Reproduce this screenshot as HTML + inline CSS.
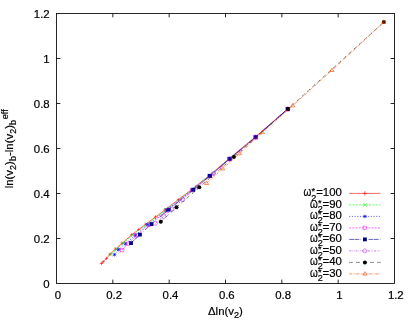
<!DOCTYPE html><html><head><meta charset="utf-8"><title>plot</title>
<style>html,body{margin:0;padding:0;background:#fff;}svg{display:block;will-change:transform;}text{font-family:"Liberation Sans",sans-serif;fill:#000;stroke:#000;stroke-width:0.2px;}</style></head><body>
<svg width="415" height="332" viewBox="0 0 415 332">
<rect width="415" height="332" fill="#fff"/>
<g stroke="#000" stroke-width="0.85" fill="none">
<rect x="56.5" y="13.5" width="338.0" height="270.0"/>
<path d="M112.83 283.5v-3.9M112.83 13.5v3.9M56.5 238.50h3.9M394.5 238.50h-3.9"/>
<path d="M169.17 283.5v-3.9M169.17 13.5v3.9M56.5 193.50h3.9M394.5 193.50h-3.9"/>
<path d="M225.50 283.5v-3.9M225.50 13.5v3.9M56.5 148.50h3.9M394.5 148.50h-3.9"/>
<path d="M281.83 283.5v-3.9M281.83 13.5v3.9M56.5 103.50h3.9M394.5 103.50h-3.9"/>
<path d="M338.17 283.5v-3.9M338.17 13.5v3.9M56.5 58.50h3.9M394.5 58.50h-3.9"/>
</g>
<g font-size="11.4">
<text x="57.80" y="299" text-anchor="middle">0</text>
<text x="49.7" y="287.75" text-anchor="end">0</text>
<text x="114.13" y="299" text-anchor="middle">0.2</text>
<text x="49.7" y="242.75" text-anchor="end">0.2</text>
<text x="170.47" y="299" text-anchor="middle">0.4</text>
<text x="49.7" y="197.75" text-anchor="end">0.4</text>
<text x="226.80" y="299" text-anchor="middle">0.6</text>
<text x="49.7" y="152.75" text-anchor="end">0.6</text>
<text x="283.13" y="299" text-anchor="middle">0.8</text>
<text x="49.7" y="107.75" text-anchor="end">0.8</text>
<text x="339.47" y="299" text-anchor="middle">1</text>
<text x="49.7" y="62.75" text-anchor="end">1</text>
<text x="395.80" y="299" text-anchor="middle">1.2</text>
<text x="49.7" y="17.75" text-anchor="end">1.2</text>
</g>
<text x="208" y="314.8" font-size="11.4">Δln(v<tspan font-size="9.1" dy="3.3">2</tspan><tspan dy="-3.3">)</tspan></text>
<text transform="translate(12.7 188.3) rotate(-90)" font-size="11.4">ln(v<tspan font-size="9.1" dy="3.3">2</tspan><tspan dy="-3.3">)</tspan><tspan font-size="9.1" dy="3.3">b</tspan><tspan dy="-3.3">-ln(v</tspan><tspan font-size="9.1" dy="3.3">2</tspan><tspan dy="-3.3">)</tspan><tspan font-size="9.1" dy="3.3">b</tspan><tspan font-size="9.1" dy="-8.5" dx="0.7">eff</tspan></text>
<path d="M101.4 263.5L103.2 261.7L106.5 258.4L110.0 254.2L115.4 249.0L122.2 243.2L131.8 234.7L138.8 229.5L145.8 224.2L155.4 217.0L165.1 209.7L178.4 199.6L191.7 189.5L209.1 175.6L229.1 158.6L255.3 136.9L287.8 108.8" stroke="#ff0000" stroke-width="0.6" fill="none"/>
<path d="M99.8 263.5h3.2M101.4 261.9v3.2" stroke="#ff0000" stroke-width="0.6" fill="none"/>
<path d="M101.6 261.7h3.2M103.2 260.1v3.2" stroke="#ff0000" stroke-width="0.6" fill="none"/>
<path d="M104.9 258.4h3.2M106.5 256.8v3.2" stroke="#ff0000" stroke-width="0.6" fill="none"/>
<path d="M108.4 254.2h3.2M110.0 252.6v3.2" stroke="#ff0000" stroke-width="0.6" fill="none"/>
<path d="M113.8 249.0h3.2M115.4 247.4v3.2" stroke="#ff0000" stroke-width="0.6" fill="none"/>
<path d="M120.6 243.2h3.2M122.2 241.6v3.2" stroke="#ff0000" stroke-width="0.6" fill="none"/>
<path d="M130.2 234.7h3.2M131.8 233.1v3.2" stroke="#ff0000" stroke-width="0.6" fill="none"/>
<path d="M137.2 229.5h3.2M138.8 227.9v3.2" stroke="#ff0000" stroke-width="0.6" fill="none"/>
<path d="M144.2 224.2h3.2M145.8 222.6v3.2" stroke="#ff0000" stroke-width="0.6" fill="none"/>
<path d="M153.8 217.0h3.2M155.4 215.4v3.2" stroke="#ff0000" stroke-width="0.6" fill="none"/>
<path d="M163.5 209.7h3.2M165.1 208.1v3.2" stroke="#ff0000" stroke-width="0.6" fill="none"/>
<path d="M176.8 199.6h3.2M178.4 198.0v3.2" stroke="#ff0000" stroke-width="0.6" fill="none"/>
<path d="M190.1 189.5h3.2M191.7 187.9v3.2" stroke="#ff0000" stroke-width="0.6" fill="none"/>
<path d="M207.5 175.6h3.2M209.1 174.0v3.2" stroke="#ff0000" stroke-width="0.6" fill="none"/>
<path d="M227.5 158.6h3.2M229.1 157.0v3.2" stroke="#ff0000" stroke-width="0.6" fill="none"/>
<path d="M253.7 136.9h3.2M255.3 135.3v3.2" stroke="#ff0000" stroke-width="0.6" fill="none"/>
<path d="M286.2 108.8h3.2M287.8 107.2v3.2" stroke="#ff0000" stroke-width="0.6" fill="none"/>
<path d="M110.9 254.4L116.3 249.2L123.1 243.4L132.7 234.9L146.7 224.4L166.0 209.9L192.0 189.6L209.4 175.7L229.4 158.7L255.6 137.0L287.8 108.8" stroke="#00ff00" stroke-width="0.6" fill="none" stroke-dasharray="2.2 1.1"/>
<path d="M109.0 252.5l3.8 3.8M109.0 256.3l3.8 -3.8" stroke="#00ff00" stroke-width="0.6" fill="none"/>
<path d="M114.4 247.3l3.8 3.8M114.4 251.1l3.8 -3.8" stroke="#00ff00" stroke-width="0.6" fill="none"/>
<path d="M121.2 241.5l3.8 3.8M121.2 245.3l3.8 -3.8" stroke="#00ff00" stroke-width="0.6" fill="none"/>
<path d="M130.8 233.0l3.8 3.8M130.8 236.8l3.8 -3.8" stroke="#00ff00" stroke-width="0.6" fill="none"/>
<path d="M144.8 222.5l3.8 3.8M144.8 226.3l3.8 -3.8" stroke="#00ff00" stroke-width="0.6" fill="none"/>
<path d="M164.1 208.0l3.8 3.8M164.1 211.8l3.8 -3.8" stroke="#00ff00" stroke-width="0.6" fill="none"/>
<path d="M190.1 187.7l3.8 3.8M190.1 191.5l3.8 -3.8" stroke="#00ff00" stroke-width="0.6" fill="none"/>
<path d="M207.5 173.8l3.8 3.8M207.5 177.6l3.8 -3.8" stroke="#00ff00" stroke-width="0.6" fill="none"/>
<path d="M227.5 156.8l3.8 3.8M227.5 160.6l3.8 -3.8" stroke="#00ff00" stroke-width="0.6" fill="none"/>
<path d="M253.7 135.1l3.8 3.8M253.7 138.9l3.8 -3.8" stroke="#00ff00" stroke-width="0.6" fill="none"/>
<path d="M285.9 106.9l3.8 3.8M285.9 110.7l3.8 -3.8" stroke="#00ff00" stroke-width="0.6" fill="none"/>
<path d="M114.5 254.7L118.5 249.5L125.6 243.7L135.4 235.2L147.7 224.7L166.6 210.2L192.3 189.9L209.5 176.0L229.5 159.0L255.6 137.3L287.8 109.1" stroke="#0000ff" stroke-width="0.6" fill="none" stroke-dasharray="1.1 1.6"/>
<path d="M112.7 254.7h3.6M114.5 252.9v3.6M113.0 253.2l3.0 3.0M113.0 256.2l3.0 -3.0" stroke="#0000ff" stroke-width="0.6" fill="none"/>
<path d="M116.7 249.5h3.6M118.5 247.7v3.6M117.0 248.0l3.0 3.0M117.0 251.0l3.0 -3.0" stroke="#0000ff" stroke-width="0.6" fill="none"/>
<path d="M123.8 243.7h3.6M125.6 241.9v3.6M124.1 242.2l3.0 3.0M124.1 245.2l3.0 -3.0" stroke="#0000ff" stroke-width="0.6" fill="none"/>
<path d="M133.6 235.2h3.6M135.4 233.4v3.6M133.9 233.7l3.0 3.0M133.9 236.7l3.0 -3.0" stroke="#0000ff" stroke-width="0.6" fill="none"/>
<path d="M145.9 224.7h3.6M147.7 222.9v3.6M146.2 223.2l3.0 3.0M146.2 226.2l3.0 -3.0" stroke="#0000ff" stroke-width="0.6" fill="none"/>
<path d="M164.8 210.2h3.6M166.6 208.4v3.6M165.1 208.7l3.0 3.0M165.1 211.7l3.0 -3.0" stroke="#0000ff" stroke-width="0.6" fill="none"/>
<path d="M190.5 189.9h3.6M192.3 188.1v3.6M190.8 188.4l3.0 3.0M190.8 191.4l3.0 -3.0" stroke="#0000ff" stroke-width="0.6" fill="none"/>
<path d="M207.7 176.0h3.6M209.5 174.2v3.6M208.0 174.5l3.0 3.0M208.0 177.5l3.0 -3.0" stroke="#0000ff" stroke-width="0.6" fill="none"/>
<path d="M227.7 159.0h3.6M229.5 157.2v3.6M228.0 157.5l3.0 3.0M228.0 160.5l3.0 -3.0" stroke="#0000ff" stroke-width="0.6" fill="none"/>
<path d="M253.8 137.3h3.6M255.6 135.5v3.6M254.1 135.8l3.0 3.0M254.1 138.8l3.0 -3.0" stroke="#0000ff" stroke-width="0.6" fill="none"/>
<path d="M286.0 109.1h3.6M287.8 107.3v3.6M286.3 107.6l3.0 3.0M286.3 110.6l3.0 -3.0" stroke="#0000ff" stroke-width="0.6" fill="none"/>
<path d="M122.1 250.1L127.8 243.8L136.6 235.3L149.1 224.8L167.4 210.3L192.7 190.0L209.7 176.1L229.6 159.1L255.7 137.4L287.8 109.2" stroke="#ff00ff" stroke-width="0.6" fill="none" stroke-dasharray="2 1.2"/>
<rect x="120.3" y="248.3" width="3.6" height="3.6" stroke="#ff00ff" stroke-width="0.5" fill="none"/>
<rect x="126.0" y="242.0" width="3.6" height="3.6" stroke="#ff00ff" stroke-width="0.5" fill="none"/>
<rect x="134.8" y="233.5" width="3.6" height="3.6" stroke="#ff00ff" stroke-width="0.5" fill="none"/>
<rect x="147.3" y="223.0" width="3.6" height="3.6" stroke="#ff00ff" stroke-width="0.5" fill="none"/>
<rect x="165.6" y="208.5" width="3.6" height="3.6" stroke="#ff00ff" stroke-width="0.5" fill="none"/>
<rect x="190.9" y="188.2" width="3.6" height="3.6" stroke="#ff00ff" stroke-width="0.5" fill="none"/>
<rect x="207.9" y="174.3" width="3.6" height="3.6" stroke="#ff00ff" stroke-width="0.5" fill="none"/>
<rect x="227.8" y="157.3" width="3.6" height="3.6" stroke="#ff00ff" stroke-width="0.5" fill="none"/>
<rect x="253.9" y="135.6" width="3.6" height="3.6" stroke="#ff00ff" stroke-width="0.5" fill="none"/>
<rect x="286.0" y="107.4" width="3.6" height="3.6" stroke="#ff00ff" stroke-width="0.5" fill="none"/>
<path d="M131.0 243.1L139.9 234.6L151.5 224.1L168.8 209.6L193.4 189.7L210.0 175.8L229.7 158.8L255.7 137.1L287.8 108.9" stroke="#00008b" stroke-width="0.6" fill="none" stroke-dasharray="4.8 0.5 4.8 1.3 0.5 2.2 0.5 2.2 0.5 2.0"/>
<rect x="129.1" y="241.2" width="3.8" height="3.8" fill="#00008b"/>
<rect x="138.0" y="232.7" width="3.8" height="3.8" fill="#00008b"/>
<rect x="149.6" y="222.2" width="3.8" height="3.8" fill="#00008b"/>
<rect x="166.9" y="207.7" width="3.8" height="3.8" fill="#00008b"/>
<rect x="191.5" y="187.8" width="3.8" height="3.8" fill="#00008b"/>
<rect x="208.1" y="173.9" width="3.8" height="3.8" fill="#00008b"/>
<rect x="227.8" y="156.9" width="3.8" height="3.8" fill="#00008b"/>
<rect x="253.8" y="135.2" width="3.8" height="3.8" fill="#00008b"/>
<rect x="285.9" y="107.0" width="3.8" height="3.8" fill="#00008b"/>
<path d="M155.4 223.3L163.6 216.4L172.2 209.1L182.8 199.7L197.0 187.2L213.3 173.6L229.9 158.6L255.7 137.0L287.8 108.9" stroke="#a020f0" stroke-width="0.6" fill="none" stroke-dasharray="2 1 0.6 1 0.6 1"/>
<circle cx="155.4" cy="223.3" r="2.0" stroke="#a020f0" stroke-width="0.5" fill="none"/>
<circle cx="163.6" cy="216.4" r="2.0" stroke="#a020f0" stroke-width="0.5" fill="none"/>
<circle cx="172.2" cy="209.1" r="2.0" stroke="#a020f0" stroke-width="0.5" fill="none"/>
<circle cx="182.8" cy="199.7" r="2.0" stroke="#a020f0" stroke-width="0.5" fill="none"/>
<circle cx="197.0" cy="187.2" r="2.0" stroke="#a020f0" stroke-width="0.5" fill="none"/>
<circle cx="213.3" cy="173.6" r="2.0" stroke="#a020f0" stroke-width="0.5" fill="none"/>
<circle cx="229.9" cy="158.6" r="2.0" stroke="#a020f0" stroke-width="0.5" fill="none"/>
<circle cx="255.7" cy="137.0" r="2.0" stroke="#a020f0" stroke-width="0.5" fill="none"/>
<circle cx="287.8" cy="108.9" r="2.0" stroke="#a020f0" stroke-width="0.5" fill="none"/>
<path d="M160.8 221.8L176.5 207.2L199.3 187.3L233.9 157.0L288.0 109.0L383.8 22.1" stroke="#000000" stroke-width="0.6" fill="none" stroke-dasharray="1.5 0.5 1.5 3.5"/>
<circle cx="160.8" cy="221.8" r="2.0" fill="#000000"/>
<circle cx="176.5" cy="207.2" r="2.0" fill="#000000"/>
<circle cx="199.3" cy="187.3" r="2.0" fill="#000000"/>
<circle cx="233.9" cy="157.0" r="2.0" fill="#000000"/>
<circle cx="288.0" cy="109.0" r="2.0" fill="#000000"/>
<circle cx="383.8" cy="22.1" r="2.0" fill="#000000"/>
<path d="M206.6 183.3L222.6 168.7L239.5 153.6L262.4 132.5L292.7 105.7L332.0 70.3L383.8 22.1" stroke="#ff4500" stroke-width="0.6" fill="none" stroke-dasharray="3 0.8 0.6 0.8 0.6 0.8"/>
<path d="M206.6 181.1l2.1 3.4h-4.2z" stroke="#ff4500" stroke-width="0.6" fill="none"/>
<path d="M222.6 166.5l2.1 3.4h-4.2z" stroke="#ff4500" stroke-width="0.6" fill="none"/>
<path d="M239.5 151.4l2.1 3.4h-4.2z" stroke="#ff4500" stroke-width="0.6" fill="none"/>
<path d="M262.4 130.3l2.1 3.4h-4.2z" stroke="#ff4500" stroke-width="0.6" fill="none"/>
<path d="M292.7 103.5l2.1 3.4h-4.2z" stroke="#ff4500" stroke-width="0.6" fill="none"/>
<path d="M332.0 68.1l2.1 3.4h-4.2z" stroke="#ff4500" stroke-width="0.6" fill="none"/>
<path d="M383.8 19.9l2.1 3.4h-4.2z" stroke="#ff4500" stroke-width="0.6" fill="none"/>
<path d="M349.2 193.4H380.5" stroke="#ff0000" stroke-width="0.6" fill="none"/>
<path d="M362.7 193.4h4.4M364.9 191.2v4.4" stroke="#ff0000" stroke-width="0.6" fill="none"/>
<text x="341.9" y="196.3" font-size="11.4" text-anchor="end">=100</text>
<text x="311.3" y="200.5" font-size="9.1">2</text>
<text x="311.6" y="194.4" font-size="9.1">*</text>
<text x="311.3" y="196.3" font-size="12.0" text-anchor="end" textLength="7.8" lengthAdjust="spacingAndGlyphs">ω</text>
<path d="M349.2 204.9H380.5" stroke="#00ff00" stroke-width="0.6" fill="none" stroke-dasharray="2.2 1.1"/>
<path d="M363.0 203.0l3.8 3.8M363.0 206.8l3.8 -3.8" stroke="#00ff00" stroke-width="0.6" fill="none"/>
<text x="341.9" y="207.8" font-size="11.4" text-anchor="end">=90</text>
<text x="317.7" y="212.0" font-size="9.1">2</text>
<text x="318.0" y="205.9" font-size="9.1">*</text>
<text x="317.7" y="207.8" font-size="12.0" text-anchor="end" textLength="7.8" lengthAdjust="spacingAndGlyphs">ω</text>
<path d="M349.2 216.4H380.5" stroke="#0000ff" stroke-width="0.6" fill="none" stroke-dasharray="1.1 1.6"/>
<path d="M363.1 216.4h3.6M364.9 214.6v3.6M363.4 214.9l3.0 3.0M363.4 217.9l3.0 -3.0" stroke="#0000ff" stroke-width="0.6" fill="none"/>
<text x="341.9" y="219.2" font-size="11.4" text-anchor="end">=80</text>
<text x="317.7" y="223.4" font-size="9.1">2</text>
<text x="318.0" y="217.3" font-size="9.1">*</text>
<text x="317.7" y="219.2" font-size="12.0" text-anchor="end" textLength="7.8" lengthAdjust="spacingAndGlyphs">ω</text>
<path d="M349.2 227.9H380.5" stroke="#ff00ff" stroke-width="0.6" fill="none" stroke-dasharray="2 1.2"/>
<rect x="363.1" y="226.1" width="3.6" height="3.6" stroke="#ff00ff" stroke-width="0.5" fill="none"/>
<text x="341.9" y="230.7" font-size="11.4" text-anchor="end">=70</text>
<text x="317.7" y="234.9" font-size="9.1">2</text>
<text x="318.0" y="228.8" font-size="9.1">*</text>
<text x="317.7" y="230.7" font-size="12.0" text-anchor="end" textLength="7.8" lengthAdjust="spacingAndGlyphs">ω</text>
<path d="M349.2 239.4H380.5" stroke="#00008b" stroke-width="0.6" fill="none" stroke-dasharray="4.8 0.5 4.8 1.3 0.5 2.2 0.5 2.2 0.5 2.0"/>
<rect x="363.0" y="237.5" width="3.8" height="3.8" fill="#00008b"/>
<text x="341.9" y="242.2" font-size="11.4" text-anchor="end">=60</text>
<text x="317.7" y="246.4" font-size="9.1">2</text>
<text x="318.0" y="240.3" font-size="9.1">*</text>
<text x="317.7" y="242.2" font-size="12.0" text-anchor="end" textLength="7.8" lengthAdjust="spacingAndGlyphs">ω</text>
<path d="M349.2 250.9H380.5" stroke="#a020f0" stroke-width="0.6" fill="none" stroke-dasharray="2 1 0.6 1 0.6 1"/>
<circle cx="364.9" cy="250.9" r="2.0" stroke="#a020f0" stroke-width="0.5" fill="none"/>
<text x="341.9" y="253.7" font-size="11.4" text-anchor="end">=50</text>
<text x="317.7" y="257.9" font-size="9.1">2</text>
<text x="318.0" y="251.8" font-size="9.1">*</text>
<text x="317.7" y="253.7" font-size="12.0" text-anchor="end" textLength="7.8" lengthAdjust="spacingAndGlyphs">ω</text>
<path d="M349.2 262.4H380.5" stroke="#000000" stroke-width="0.6" fill="none" stroke-dasharray="1.5 0.5 1.5 3.5"/>
<circle cx="364.9" cy="262.4" r="2.0" fill="#000000"/>
<text x="341.9" y="265.1" font-size="11.4" text-anchor="end">=40</text>
<text x="317.7" y="269.3" font-size="9.1">2</text>
<text x="318.0" y="263.2" font-size="9.1">*</text>
<text x="317.7" y="265.1" font-size="12.0" text-anchor="end" textLength="7.8" lengthAdjust="spacingAndGlyphs">ω</text>
<path d="M349.2 273.9H380.5" stroke="#ff4500" stroke-width="0.6" fill="none" stroke-dasharray="3 0.8 0.6 0.8 0.6 0.8"/>
<path d="M364.9 271.7l2.1 3.4h-4.2z" stroke="#ff4500" stroke-width="0.6" fill="none"/>
<text x="341.9" y="276.6" font-size="11.4" text-anchor="end">=30</text>
<text x="317.7" y="280.8" font-size="9.1">2</text>
<text x="318.0" y="274.7" font-size="9.1">*</text>
<text x="317.7" y="276.6" font-size="12.0" text-anchor="end" textLength="7.8" lengthAdjust="spacingAndGlyphs">ω</text>
</svg></body></html>
